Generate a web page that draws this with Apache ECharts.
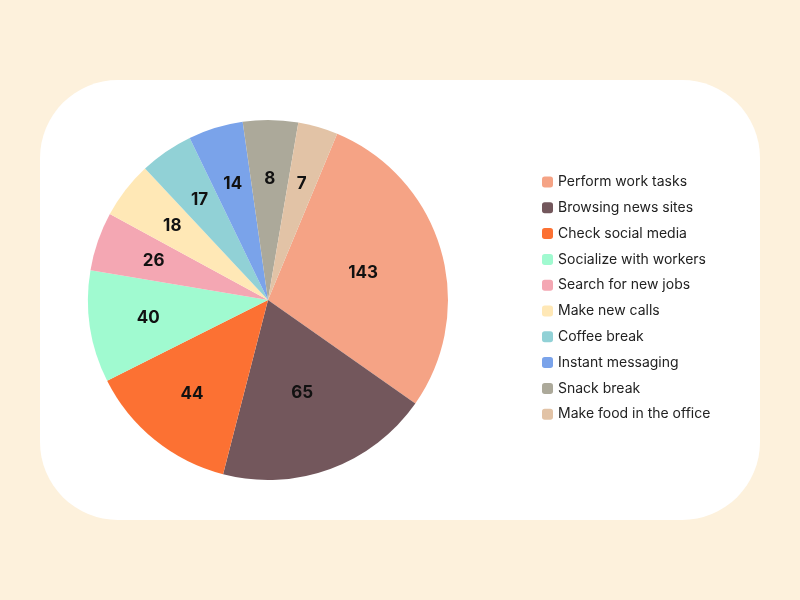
<!DOCTYPE html>
<html>
<head>
<meta charset="utf-8">
<script src="https://cdn.jsdelivr.net/npm/echarts@6/dist/echarts.min.js"></script>
<style>
  html, body { margin: 0; padding: 0; background: #FDF1DC; }
  #chart { width: 800px; height: 600px; }
</style>
</head>
<body>
<div id="chart"></div>
<script>
// Activity names (legend order = slice order, clockwise)
const categories = [
  'Perform work tasks', 'Browsing news sites', 'Check social media',
  'Socialize with workers', 'Search for new jobs', 'Make new calls',
  'Coffee break', 'Instant messaging', 'Snack break', 'Make food in the office'
];
// Numbers printed on the slices
const counts = [143, 65, 44, 40, 26, 18, 17, 14, 8, 7];
// Slice sizes as drawn in the picture (share of the full circle, in degrees)
const shares = [102.5, 69.4, 48.9, 36.2, 19.0, 18.4, 17.3, 17.7, 17.8, 12.9];
const colors = ['#F5A385', '#73575C', '#FC7133', '#A0FAD0', '#F4A7B3',
                '#FFE8B6', '#91D1D6', '#7AA3EA', '#ACA99A', '#E2C3A6'];

const chart = echarts.init(document.getElementById('chart'));
const pieData = categories.map((n, i) => ({ name: n, value: shares[i] }));

const labelStyle = {
  show: true, position: 'inside',
  fontFamily: 'Inter', fontWeight: 'bold', fontSize: 17, color: '#111111'
};
// big slices carry their number closer to the centre
const isBig = i => counts[i] >= 60;

function labelRing(r0, pick) {
  return {
    type: 'pie',
    center: [268, 300],
    radius: [r0, 180],
    startAngle: 67.4,
    clockwise: true,
    silent: true,
    itemStyle: { color: 'rgba(0,0,0,0)' },
    label: Object.assign({}, labelStyle, {
      formatter: p => pick(p.dataIndex) ? String(counts[p.dataIndex]) : ''
    }),
    labelLine: { show: false },
    data: pieData
  };
}

chart.setOption({
  backgroundColor: '#FDF1DC',
  color: colors,
  animation: false,
  graphic: [{
    type: 'rect', z: -10, silent: true,
    shape: { x: 40, y: 80, width: 720, height: 440, r: 78 },
    style: { fill: '#FFFFFF' }
  }],
  legend: {
    orient: 'vertical',
    left: 537, top: 170,
    data: categories,
    icon: 'roundRect',
    itemWidth: 11, itemHeight: 11,
    itemGap: 11.8,
    textStyle: { fontFamily: 'Inter', fontSize: 14, color: '#222222' }
  },
  series: [
    {
      type: 'pie',
      center: [268, 300],
      radius: [0, 180],
      startAngle: 67.4,
      clockwise: true,
      silent: true,
      label: { show: false },
      labelLine: { show: false },
      data: pieData
    },
    labelRing(56, i => !isBig(i)),
    labelRing(12, i => isBig(i))
  ]
});
</script>
</body>
</html>
